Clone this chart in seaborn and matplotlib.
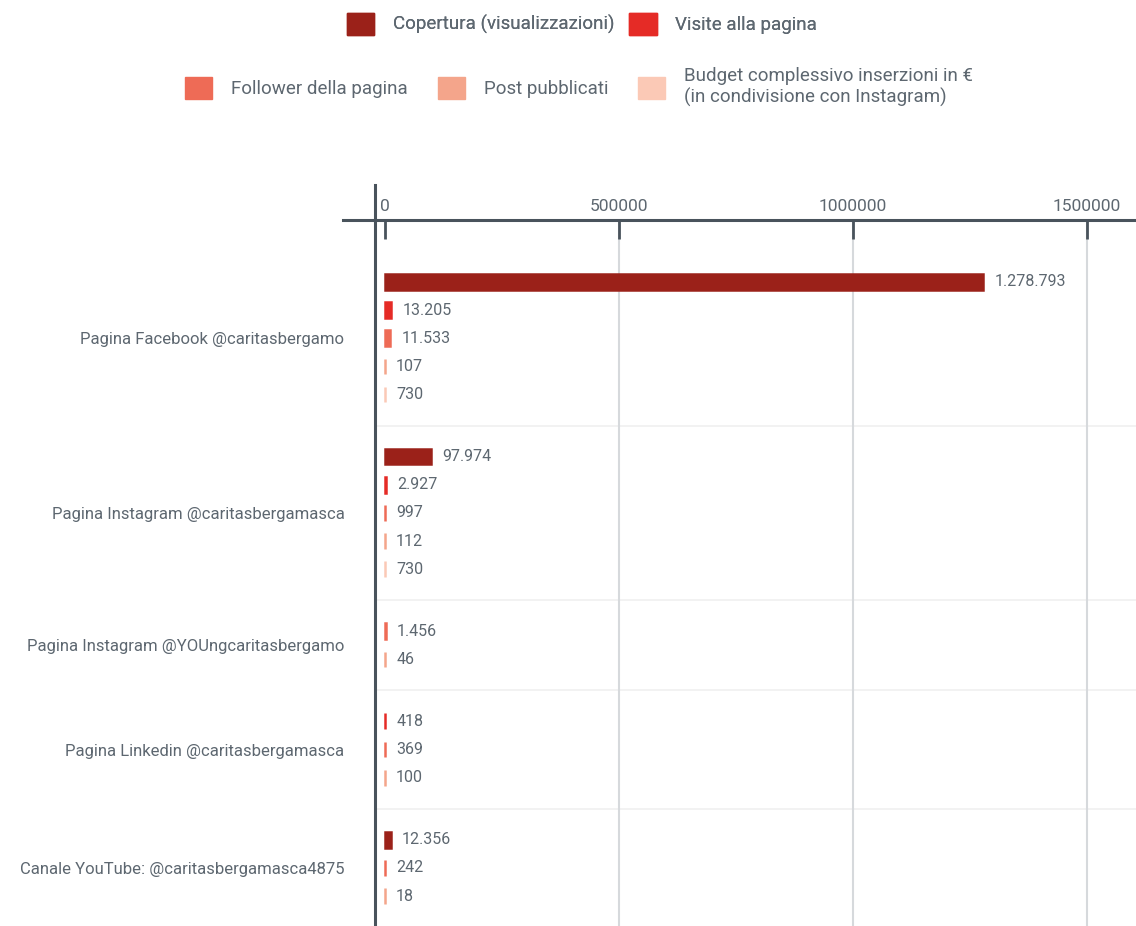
import numpy as np
import pandas as pd
import matplotlib.pyplot as plt
import matplotlib.patches as mpatches
from matplotlib.lines import Line2D
import seaborn as sns

# Values (None = not reported for that page)
pages = [
    "Pagina Facebook @caritasbergamo",
    "Pagina Instagram @caritasbergamasca",
    "Pagina Instagram @YOUngcaritasbergamo",
    "Pagina Linkedin @caritasbergamasca",
    "Canale YouTube: @caritasbergamasca4875",
]
metrics = [
    "Copertura (visualizzazioni)",
    "Visite alla pagina",
    "Follower della pagina",
    "Post pubblicati",
    "Budget complessivo inserzioni in €\n(in condivisione con Instagram)",
]
copertura = [1278793, 97974, None, None, 12356]
visite = [13205, 2927, None, 418, None]
follower = [11533, 997, 1456, 369, 242]
post = [107, 112, 46, 100, 18]
budget = [730, 730, None, None, None]
xticks = [0, 500000, 1000000, 1500000]

colors = ["#9b2119", "#e52b26", "#ee6b56", "#f4a58b", "#fbc9b6"]
text_col = "#5d6770"
axis_col = "#49535c"

# long table, one row per drawn bar, only non-empty values
series = [copertura, visite, follower, post, budget]
rows = []
for gi, page in enumerate(pages):
    for mi, m in enumerate(metrics):
        v = series[mi][gi]
        if v is not None:
            rows.append({"page": page, "metric": m, "value": v})
df = pd.DataFrame(rows)

# stack bars one under the other, with a gap between pages
GAP = 2.2
pos, centers, seps = [], [], []
y = 0.0
for gi, page in enumerate(pages):
    n = (df["page"] == page).sum()
    ys = [y + k for k in range(n)]
    pos += ys
    centers.append(np.mean(ys))
    if gi < len(pages) - 1:
        seps.append(ys[-1] + GAP / 2)
    y = ys[-1] + GAP
df["pos"] = pos

plt.rcParams["font.family"] = ["Roboto", "DejaVu Sans"]

fig = plt.figure(figsize=(11.36, 9.26), dpi=100)
ax = fig.add_axes([375 / 1136, 0, 1 - 375 / 1136, 1 - 220 / 926])

sns.barplot(data=df, x="value", y="pos", hue="metric", hue_order=metrics,
            palette=colors, saturation=1, orient="h", native_scale=True, dodge=False,
            width=0.56, errorbar=None, legend=False, ax=ax)

# thin edge so very small values remain visible as slivers
for p in ax.patches:
    p.set_edgecolor(p.get_facecolor())
    p.set_linewidth(1.8)

for c in ax.containers:
    ax.bar_label(c, labels=[f"{int(v):,}".replace(",", ".") for v in c.datavalues],
                 padding=8, fontsize=11.5, color=text_col)

px = 0.000468
ax.set_xlim(-10 / px, (1136 - 385) / px)
ax.set_ylim(df["pos"].max() + 30 / 28.2, -62 / 28.2)

ax.xaxis.tick_top()
ax.set_xticks(xticks)
ax.set_xticklabels([str(t) for t in xticks])
ax.tick_params(axis="x", direction="in", length=14, width=2, color=axis_col,
               labelcolor=text_col, labelsize=12.5, pad=4)
ax.set_yticks(centers)
ax.set_yticklabels(pages)
ax.tick_params(axis="y", length=0, pad=22, labelcolor=text_col, labelsize=12)
ax.set_xlabel("")
ax.set_ylabel("")

ax.grid(axis="x", color="#d6d9dc", linewidth=1.5)
ax.xaxis.get_gridlines()[0].set_visible(False)
ax.set_axisbelow(True)
for s in seps:
    ax.axhline(s, color="#f0f0f0", linewidth=1.2, zorder=0)

for side in ["right", "bottom"]:
    ax.spines[side].set_visible(False)
for side in ["top", "left"]:
    ax.spines[side].set_color(axis_col)
    ax.spines[side].set_linewidth(2.2)

# spine extensions past the corner
fig.add_artist(Line2D([343 / 1136, 375 / 1136], [1 - 220 / 926] * 2,
                      color=axis_col, linewidth=2.2))
fig.add_artist(Line2D([375 / 1136] * 2, [1 - 185 / 926, 1 - 220 / 926],
                      color=axis_col, linewidth=2.2))

handles = [mpatches.Patch(color=c, label=m) for c, m in zip(colors, metrics)]
leg1 = fig.legend(handles=handles[:2], loc="center", bbox_to_anchor=(582 / 1136, 1 - 24 / 926),
                  ncol=2, frameon=False, fontsize=13.5, handlelength=1.45, handleheight=1.45,
                  handletextpad=1.0, columnspacing=0.8, labelcolor=text_col)
fig.add_artist(leg1)
fig.legend(handles=handles[2:], loc="center", bbox_to_anchor=(579 / 1136, 1 - 87 / 926),
           ncol=3, frameon=False, fontsize=13.5, handlelength=1.45, handleheight=1.45,
           handletextpad=1.0, columnspacing=1.6, labelcolor=text_col, labelspacing=0.2)

fig.savefig("out.png", dpi=100)
